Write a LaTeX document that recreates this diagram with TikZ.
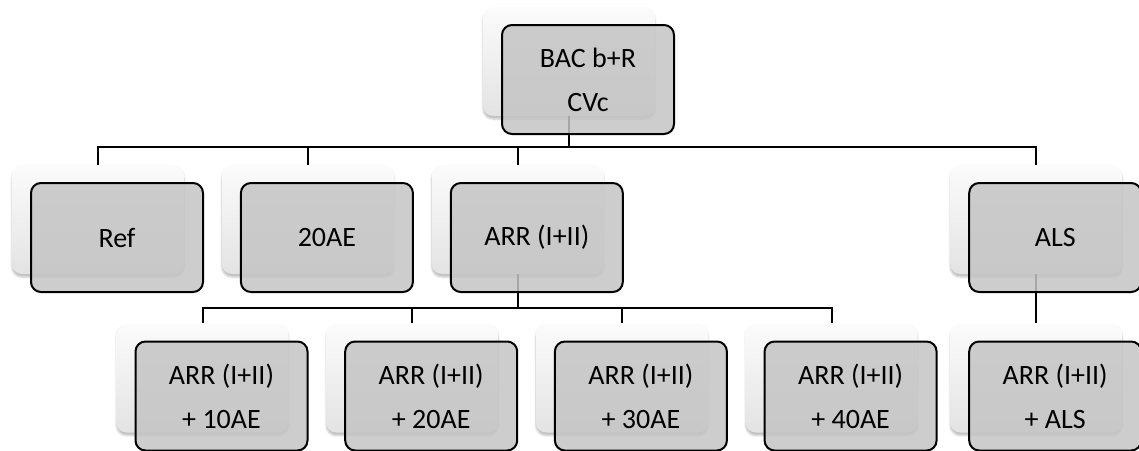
\documentclass[tikz,border=0pt]{standalone}
\usepackage{fontspec}
\setmainfont{Carlito}
\usetikzlibrary{positioning,shadows.blur}

\definecolor{boxgray}{RGB}{196,196,196}

\begin{document}
\begin{tikzpicture}
    [ x = 1pt, y = 1pt
    , card/.style =
      { minimum width = 172pt, minimum height = 109pt, inner sep = 0pt
      , rounded corners = 10pt }
    , backcard/.style =
      { card, top color = gray!3, bottom color = gray!22
      , blur shadow = {shadow xshift = 0pt, shadow yshift = -3pt, shadow opacity = 25} }
    , frontcard/.style =
      { card, draw, line width = 2pt, fill = boxgray, fill opacity = .85
      , text opacity = 1, align = center
      , font = \fontsize{28}{44}\selectfont }
    , link/.style =
      { line width = 2pt }
    ]
    \useasboundingbox (0,0) rectangle (1139,-450);

    % back cards, the ones the links hang from
    \node [backcard] (top) at (569,-61.5) {};
    \node [backcard] (ref) at (98,-219.5) {};
    \node [backcard] (ae20) [right=37.5pt of ref] {};
    \node [backcard] (arr) [right=37.5pt of ae20] {};
    \node [backcard] (als) [right=346pt of arr] {};
    \node [backcard] (arr10) at (202.5,-378) {};
    \node [backcard] (arr20) [right=37.3pt of arr10] {};
    \node [backcard] (arr30) [right=37.3pt of arr20] {};
    \node [backcard] (arr40) [right=37.3pt of arr30] {};
    \node [backcard] (arrals) at (als |- arr10) {};

    % links
    \draw [link] (top.south) -- ++(0,-31) coordinate (bar1);
    \foreach \n in {ref,ae20,arr,als}
      \draw [link] (\n.north) |- (bar1);
    \draw [link] (arr.south) -- ++(0,-34) coordinate (bar2);
    \foreach \n in {arr10,arr20,arr30,arr40}
      \draw [link] (\n.north) |- (bar2);
    \draw [link] (als.south) -- (arrals.north);

    % front cards with the labels
    \node [frontcard] (top-f) at ([shift={(19,-18)}]top.center) {BAC b+R\\CVc};
    \node [frontcard] (ref-f) at ([shift={(19,-18)}]ref.center) {Ref};
    \node [frontcard] (ae20-f) at ([shift={(19,-18)}]ae20.center) {20AE};
    \node [frontcard] (arr-f) at ([shift={(19,-18)}]arr.center) {ARR (I+II)};
    \node [frontcard] (als-f) at ([shift={(19,-18)}]als.center) {ALS};
    \node [frontcard] (arr10-f) at ([shift={(19,-18)}]arr10.center) {ARR (I+II)\\+ 10AE};
    \node [frontcard] (arr20-f) at ([shift={(19,-18)}]arr20.center) {ARR (I+II)\\+ 20AE};
    \node [frontcard] (arr30-f) at ([shift={(19,-18)}]arr30.center) {ARR (I+II)\\+ 30AE};
    \node [frontcard] (arr40-f) at ([shift={(19,-18)}]arr40.center) {ARR (I+II)\\+ 40AE};
    \node [frontcard] (arrals-f) at ([shift={(19,-18)}]arrals.center) {ARR (I+II)\\+ ALS};
\end{tikzpicture}
\end{document}
